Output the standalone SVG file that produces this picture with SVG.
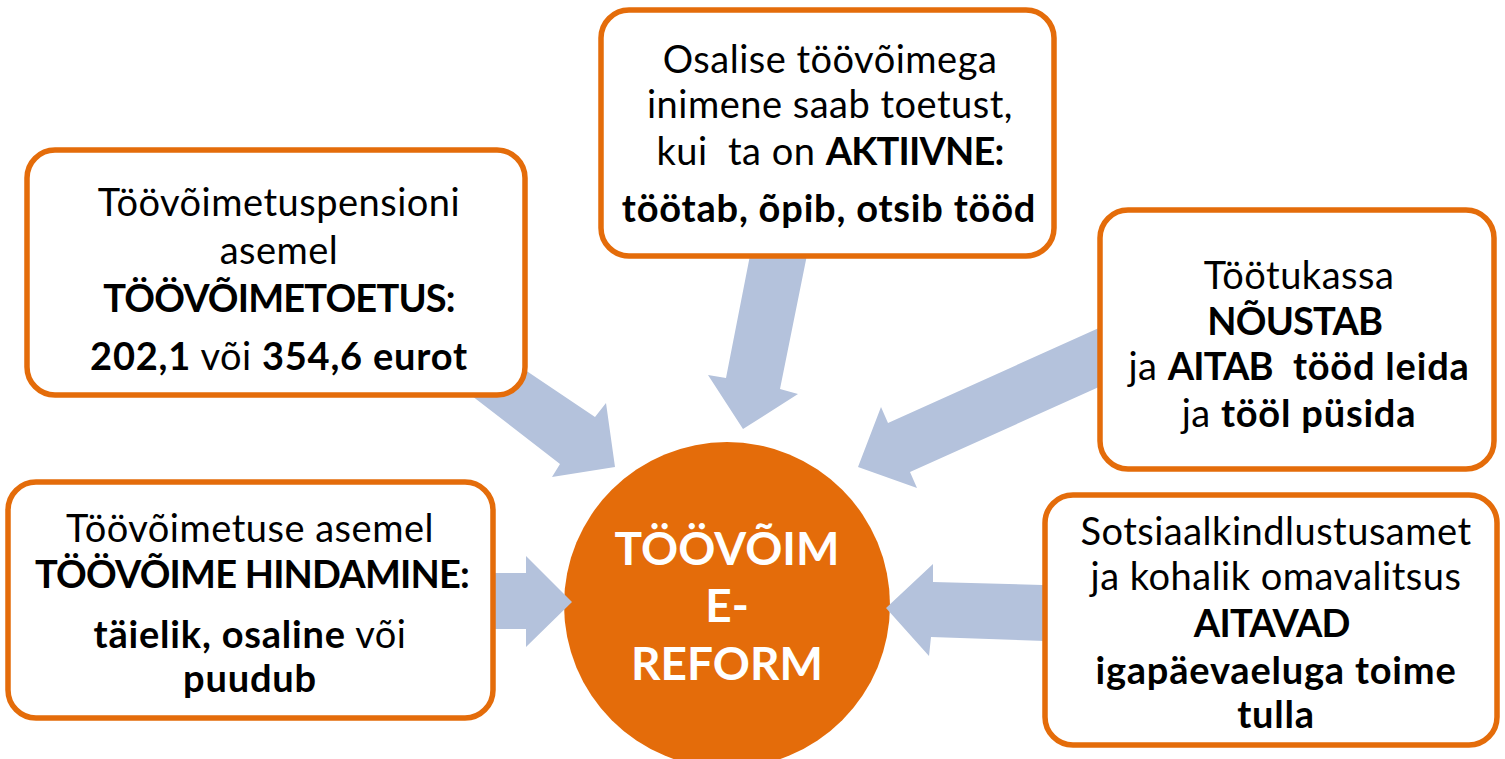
<svg xmlns="http://www.w3.org/2000/svg" width="1505" height="759" viewBox="0 0 1505 759">
  <style>
    .box { fill: #ffffff; stroke: #E46C0A; stroke-width: 5.5; }
    .arrow { fill: #B4C2DC; }
    .t { font-family: Lato, "Liberation Sans", sans-serif; font-size: 38px; letter-spacing: 0.5px; fill: #000000; text-anchor: middle; white-space: pre; }
    .b { font-weight: bold; letter-spacing: 0.8px; }
    .caps { letter-spacing: -0.8px; }
    .c { font-family: Lato, "Liberation Sans", sans-serif; font-size: 46px; font-weight: bold; fill: #ffffff; text-anchor: middle; }
  </style>
  <rect width="1505" height="759" fill="#ffffff"/>

  <g id="center">
    <circle cx="727" cy="605" r="163" fill="#E46C0A"/>
    <text class="c" x="727" y="565">TÖÖVÕIM</text>
    <text class="c" x="727" y="622">E-</text>
    <text class="c" x="727" y="680">REFORM</text>
  </g>

  <g id="connectors">
    <polygon class="arrow" points="500,353 595,417 606,403 615,467 552,477 560,464 450,379"/>
    <polygon class="arrow" points="753,240 810,240 780,389 798,394 743,429 708,375 726,378"/>
    <polygon class="arrow" points="1110,323 888,423 881,407 858,467 917,488 910,472 1110,382"/>
    <polygon class="arrow" points="480,573 526,573 526,556 572,602 526,647 526,629 480,629"/>
    <polygon class="arrow" points="1060,585.5 933,582 933,564 886,608 929,656 931,637 1060,641.5"/>
  </g>

  <g id="box-pension">
    <rect class="box" x="27" y="150" width="498" height="245" rx="28"/>
    <text class="t" x="279" y="216">Töövõimetuspensioni</text>
    <text class="t" x="279" y="264">asemel</text>
    <text class="t b caps" x="279" y="312">TÖÖVÕIMETOETUS:</text>
    <text class="t" x="279" y="370"><tspan class="b">202,1</tspan> või <tspan class="b">354,6 eurot</tspan></text>
  </g>

  <g id="box-active">
    <rect class="box" x="601" y="10" width="453" height="246" rx="28"/>
    <text class="t" x="830" y="73">Osalise töövõimega</text>
    <text class="t" x="830" y="118">inimene saab toetust,</text>
    <text class="t" x="830" y="165">kui  ta on <tspan class="b caps">AKTIIVNE:</tspan></text>
    <text class="t b" x="829" y="222">töötab, õpib, otsib tööd</text>
  </g>

  <g id="box-tootukassa">
    <rect class="box" x="1100" y="210" width="394" height="259" rx="28"/>
    <text class="t" x="1299" y="289">Töötukassa</text>
    <text class="t b caps" x="1299" y="335">NÕUSTAB </text>
    <text class="t" x="1299" y="380">ja <tspan class="b caps">AITAB</tspan><tspan class="b">  tööd leida</tspan></text>
    <text class="t" x="1299" y="427">ja <tspan class="b">tööl püsida</tspan></text>
  </g>

  <g id="box-hindamine">
    <rect class="box" x="8" y="482" width="485" height="236" rx="28"/>
    <text class="t" x="250" y="542">Töövõimetuse asemel</text>
    <text class="t b caps" x="252" y="588">TÖÖVÕIME HINDAMINE:</text>
    <text class="t" x="250" y="648"><tspan class="b">täielik, osaline</tspan> või</text>
    <text class="t b" x="250" y="692">puudub</text>
  </g>

  <g id="box-sotsiaal">
    <rect class="box" x="1045" y="495" width="452" height="250" rx="28"/>
    <text class="t" x="1276" y="545">Sotsiaalkindlustusamet</text>
    <text class="t" x="1276" y="590">ja kohalik omavalitsus</text>
    <text class="t b caps" x="1276" y="637">AITAVAD </text>
    <text class="t b" x="1276" y="684">igapäevaeluga toime</text>
    <text class="t b" x="1276" y="728">tulla</text>
  </g>
</svg>
